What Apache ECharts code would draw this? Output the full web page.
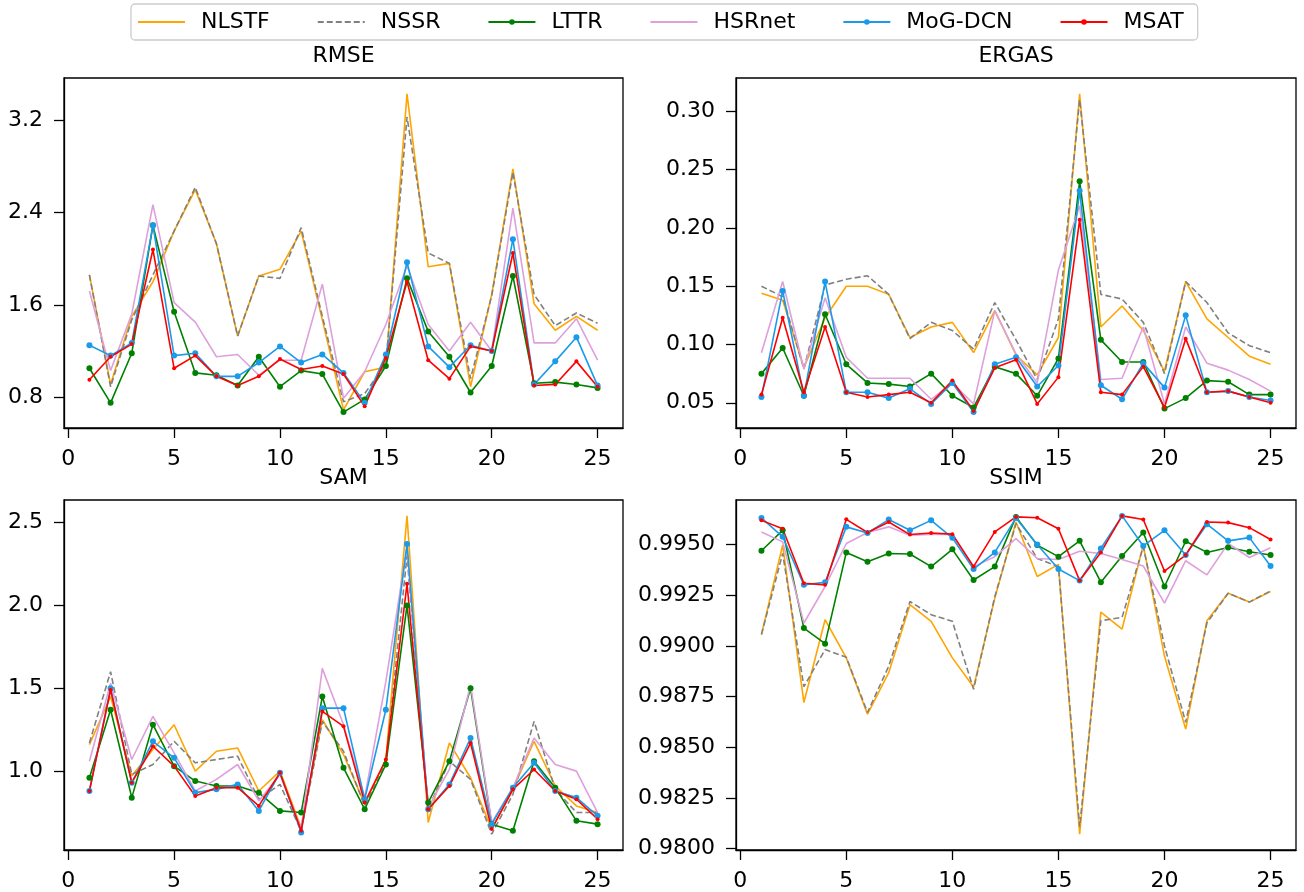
<!DOCTYPE html>
<html>
<head>
<meta charset="utf-8">
<title>metrics</title>
<script src="https://cdn.jsdelivr.net/npm/echarts@6/dist/echarts.min.js"></script>
<style type="text/css">
    html, body { margin: 0; padding: 0; background: #fff; }
    #main { width: 1304px; height: 892px; }
</style>
</head>
<body>
<div id="main"></div>
<script type="text/javascript">
// image index on the x axis
var idx = [1, 2, 3, 4, 5, 6, 7, 8, 9, 10, 11, 12, 13, 14, 15, 16, 17, 18, 19, 20, 21, 22, 23, 24, 25];
var names = ['NLSTF', 'NSSR', 'LTTR', 'HSRnet', 'MoG-DCN', 'MSAT'];
var xTicks = [0, 5, 10, 15, 20, 25];

// RMSE
var rmseNLSTF  = [1.86, 0.91, 1.50, 1.80, 2.24, 2.60, 2.13, 1.33, 1.85, 1.91, 2.24, 1.47, 0.69, 1.02, 1.06, 3.43, 1.93, 1.96, 0.89, 1.69, 2.78, 1.61, 1.38, 1.50, 1.38];
var rmseNSSR   = [1.86, 0.89, 1.47, 1.86, 2.24, 2.62, 2.13, 1.33, 1.85, 1.83, 2.27, 1.50, 0.76, 0.83, 1.09, 3.23, 2.05, 1.96, 0.96, 1.68, 2.75, 1.69, 1.42, 1.53, 1.44];
var rmseLTTR   = [1.05, 0.75, 1.18, 2.29, 1.54, 1.01, 0.99, 0.90, 1.15, 0.89, 1.03, 1.00, 0.67, 0.78, 1.07, 1.83, 1.37, 1.15, 0.84, 1.07, 1.85, 0.92, 0.93, 0.91, 0.88];
var rmseHSRnet = [1.72, 1.03, 1.52, 2.47, 1.62, 1.45, 1.15, 1.17, 0.99, 1.12, 1.12, 1.78, 0.79, 1.02, 1.43, 1.94, 1.43, 1.20, 1.45, 1.20, 2.44, 1.27, 1.27, 1.48, 1.12];
var rmseMoG    = [1.25, 1.16, 1.27, 2.29, 1.16, 1.18, 0.98, 0.98, 1.10, 1.24, 1.10, 1.17, 1.01, 0.75, 1.17, 1.97, 1.24, 1.06, 1.25, 1.20, 2.17, 0.91, 1.11, 1.32, 0.90];
var rmseMSAT   = [0.95, 1.15, 1.26, 2.08, 1.05, 1.16, 0.98, 0.90, 0.98, 1.13, 1.04, 1.07, 1.00, 0.72, 1.14, 1.80, 1.12, 0.96, 1.24, 1.20, 2.05, 0.90, 0.91, 1.11, 0.89];

// ERGAS
var ergasNLSTF  = [0.144, 0.138, 0.080, 0.123, 0.150, 0.150, 0.143, 0.106, 0.115, 0.119, 0.093, 0.129, 0.091, 0.074, 0.106, 0.315, 0.115, 0.133, 0.112, 0.077, 0.154, 0.122, 0.106, 0.090, 0.083];
var ergasNSSR   = [0.150, 0.141, 0.079, 0.151, 0.156, 0.159, 0.143, 0.105, 0.119, 0.112, 0.096, 0.136, 0.104, 0.070, 0.122, 0.310, 0.143, 0.139, 0.119, 0.075, 0.154, 0.136, 0.110, 0.099, 0.093];
var ergasLTTR   = [0.075, 0.097, 0.056, 0.126, 0.083, 0.067, 0.066, 0.064, 0.075, 0.056, 0.046, 0.081, 0.075, 0.056, 0.088, 0.240, 0.104, 0.085, 0.085, 0.045, 0.054, 0.069, 0.068, 0.057, 0.057];
var ergasHSRnet = [0.093, 0.154, 0.079, 0.140, 0.089, 0.071, 0.071, 0.071, 0.053, 0.067, 0.049, 0.129, 0.092, 0.067, 0.164, 0.219, 0.070, 0.071, 0.115, 0.049, 0.115, 0.084, 0.078, 0.070, 0.060];
var ergasMoG    = [0.055, 0.146, 0.056, 0.154, 0.059, 0.059, 0.054, 0.062, 0.049, 0.067, 0.042, 0.083, 0.089, 0.064, 0.082, 0.232, 0.065, 0.053, 0.084, 0.063, 0.125, 0.059, 0.060, 0.055, 0.052];
var ergasMSAT   = [0.057, 0.123, 0.059, 0.115, 0.059, 0.055, 0.057, 0.059, 0.050, 0.069, 0.043, 0.080, 0.087, 0.049, 0.072, 0.207, 0.059, 0.057, 0.081, 0.046, 0.105, 0.059, 0.060, 0.055, 0.050];

// SAM
var samNLSTF  = [1.16, 1.45, 0.97, 1.13, 1.28, 1.00, 1.12, 1.14, 0.88, 1.00, 0.66, 1.31, 1.10, 0.80, 1.07, 2.54, 0.69, 1.17, 0.96, 0.65, 0.89, 1.18, 0.91, 0.79, 0.75];
var samNSSR   = [1.17, 1.60, 0.98, 1.04, 1.18, 1.05, 1.07, 1.09, 0.83, 0.92, 0.64, 1.30, 1.12, 0.79, 1.05, 2.30, 0.77, 1.06, 0.95, 0.62, 0.86, 1.30, 0.89, 0.75, 0.75];
var samLTTR   = [0.96, 1.37, 0.84, 1.28, 1.03, 0.94, 0.91, 0.91, 0.87, 0.76, 0.75, 1.45, 1.02, 0.77, 1.04, 2.00, 0.81, 1.06, 1.50, 0.68, 0.64, 1.06, 0.90, 0.70, 0.68];
var samHSRnet = [1.06, 1.53, 1.07, 1.33, 1.11, 0.88, 0.95, 1.04, 0.82, 0.98, 0.65, 1.62, 1.28, 0.84, 1.54, 2.35, 0.78, 1.01, 1.52, 0.69, 0.90, 1.20, 1.04, 1.00, 0.75];
var samMoG    = [0.88, 1.50, 0.93, 1.18, 1.08, 0.87, 0.89, 0.92, 0.76, 0.99, 0.63, 1.38, 1.38, 0.83, 1.37, 2.37, 0.77, 0.92, 1.20, 0.68, 0.90, 1.05, 0.88, 0.84, 0.73];
var samMSAT   = [0.88, 1.49, 0.93, 1.15, 1.03, 0.85, 0.90, 0.90, 0.79, 0.99, 0.64, 1.36, 1.27, 0.81, 1.07, 2.13, 0.77, 0.91, 1.17, 0.65, 0.89, 1.01, 0.88, 0.83, 0.71];

// SSIM
var ssimNLSTF  = [0.99056, 0.99497, 0.98721, 0.99129, 0.98941, 0.98663, 0.98868, 0.99203, 0.99121, 0.98941, 0.98797, 0.99235, 0.99611, 0.99342, 0.99402, 0.98072, 0.99167, 0.99083, 0.99497, 0.98950, 0.98590, 0.99124, 0.99260, 0.99216, 0.99268];
var ssimNSSR   = [0.99056, 0.99456, 0.98799, 0.98982, 0.98944, 0.98672, 0.98900, 0.99219, 0.99154, 0.99121, 0.98786, 0.99243, 0.99603, 0.99431, 0.99391, 0.98108, 0.99124, 0.99141, 0.99489, 0.99000, 0.98623, 0.99113, 0.99260, 0.99216, 0.99271];
var ssimLTTR   = [0.99469, 0.99570, 0.99088, 0.99011, 0.99461, 0.99415, 0.99456, 0.99453, 0.99391, 0.99476, 0.99325, 0.99391, 0.99636, 0.99497, 0.99440, 0.99518, 0.99314, 0.99443, 0.99559, 0.99293, 0.99516, 0.99461, 0.99485, 0.99464, 0.99448];
var ssimHSRnet = [0.99562, 0.99513, 0.99113, 0.99293, 0.99505, 0.99559, 0.99587, 0.99546, 0.99549, 0.99549, 0.99391, 0.99440, 0.99529, 0.99431, 0.99426, 0.99467, 0.99456, 0.99426, 0.99394, 0.99211, 0.99420, 0.99350, 0.99505, 0.99436, 0.99484];
var ssimMoG    = [0.99631, 0.99538, 0.99301, 0.99314, 0.99587, 0.99557, 0.99623, 0.99570, 0.99619, 0.99533, 0.99379, 0.99461, 0.99631, 0.99500, 0.99379, 0.99322, 0.99480, 0.99641, 0.99493, 0.99570, 0.99448, 0.99600, 0.99518, 0.99534, 0.99394];
var ssimMSAT   = [0.99619, 0.99578, 0.99309, 0.99301, 0.99624, 0.99559, 0.99611, 0.99549, 0.99557, 0.99551, 0.99391, 0.99562, 0.99636, 0.99632, 0.99578, 0.99322, 0.99461, 0.99641, 0.99623, 0.99369, 0.99448, 0.99611, 0.99608, 0.99583, 0.99525];

var rmseTicks  = [0.8, 1.6, 2.4, 3.2];
var ergasTicks = [0.05, 0.10, 0.15, 0.20, 0.25, 0.30];
var samTicks   = [1.0, 1.5, 2.0, 2.5];
var ssimTicks  = [0.9800, 0.9825, 0.9850, 0.9875, 0.9900, 0.9925, 0.9950];

var FONT = 'DejaVu Sans';
var FS = 22;

var panels = [
    {title: 'RMSE',  left: 64,  top: 78,  width: 559, height: 350, ticks: rmseTicks,  dec: 1,
     data: [rmseNLSTF, rmseNSSR, rmseLTTR, rmseHSRnet, rmseMoG, rmseMSAT]},
    {title: 'ERGAS', left: 736, top: 78,  width: 560, height: 350, ticks: ergasTicks, dec: 2,
     data: [ergasNLSTF, ergasNSSR, ergasLTTR, ergasHSRnet, ergasMoG, ergasMSAT]},
    {title: 'SAM',   left: 64,  top: 500, width: 559, height: 351, ticks: samTicks,   dec: 1,
     data: [samNLSTF, samNSSR, samLTTR, samHSRnet, samMoG, samMSAT]},
    {title: 'SSIM',  left: 736, top: 500, width: 560, height: 351, ticks: ssimTicks,  dec: 4,
     data: [ssimNLSTF, ssimNSSR, ssimLTTR, ssimHSRnet, ssimMoG, ssimMSAT]}
];

// line looks per method
var looks = [
    {color: '#ffa500', type: 'solid',  symbol: 'none',   size: 0},
    {color: '#808080', type: [6, 3],   symbol: 'none',   size: 0},
    {color: '#008000', type: 'solid',  symbol: 'circle', size: 6},
    {color: '#dda0dd', type: 'solid',  symbol: 'none',   size: 0},
    {color: '#1a9bea', type: 'solid',  symbol: 'circle', size: 6},
    {color: '#ff0000', type: 'solid',  symbol: 'circle', size: 4}
];

var grids = [], xAxes = [], yAxes = [], titles = [], series = [];

panels.forEach(function (p, i) {
    grids.push({
        left: p.left, top: p.top, width: p.width, height: p.height,
        show: true, borderColor: '#000', borderWidth: 1.3, backgroundColor: '#fff'
    });
    titles.push({
        text: p.title, left: p.left + p.width / 2, top: p.top - 33, textAlign: 'center', padding: 0,
        textStyle: {fontFamily: FONT, fontSize: FS, fontWeight: 'normal', color: '#000'}
    });
    xAxes.push({
        gridIndex: i, type: 'value', min: -0.2, max: 26.2,
        splitLine: {show: false},
        axisLine: {show: true, onZero: false, lineStyle: {color: '#000', width: 1.3}},
        axisTick: {show: true, length: 10, customValues: xTicks, lineStyle: {color: '#000', width: 1.3}},
        axisLabel: {customValues: xTicks, margin: 20, fontFamily: FONT, fontSize: FS, color: '#000'}
    });
    var dec = p.dec;
    yAxes.push({
        gridIndex: i, type: 'value',
        min: function (v) { return v.min - (v.max - v.min) * 0.05; },
        max: function (v) { return v.max + (v.max - v.min) * 0.05; },
        splitLine: {show: false},
        axisLine: {show: true, onZero: false, lineStyle: {color: '#000', width: 1.3}},
        axisTick: {show: true, length: 10, customValues: p.ticks, lineStyle: {color: '#000', width: 1.3}},
        axisLabel: {
            customValues: p.ticks, margin: 21, fontFamily: FONT, fontSize: FS, color: '#000',
            formatter: function (v) { return v.toFixed(dec); }
        }
    });
    p.data.forEach(function (vals, k) {
        var lk = looks[k];
        series.push({
            name: names[k], type: 'line', xAxisIndex: i, yAxisIndex: i,
            data: idx.map(function (x, j) { return [x, vals[j]]; }),
            symbol: lk.symbol, symbolSize: lk.size, showSymbol: lk.symbol !== 'none',
            lineStyle: {color: lk.color, width: 1.6, type: lk.type},
            itemStyle: {color: lk.color},
            emphasis: {disabled: true},
            animation: false
        });
    });
});

// legend entries: plain line for methods drawn without markers
var legendData = names.map(function (n, k) {
    var item = {name: n};
    if (looks[k].symbol === 'none') {
        item.itemStyle = {opacity: 0};
    }
    return item;
});

var myChart = echarts.init(document.getElementById('main'));
option = {
    backgroundColor: '#fff',
    animation: false,
    title: titles,
    legend: {
        data: legendData, top: 4, left: 131,
        padding: [7, 14, 7, 6],
        itemWidth: 47, itemHeight: 7, itemGap: 47,
        borderColor: '#cccccc', borderWidth: 1.3, borderRadius: 4,
        textStyle: {fontFamily: FONT, fontSize: FS, color: '#000', padding: [0, 0, 0, 11]}
    },
    grid: grids,
    xAxis: xAxes,
    yAxis: yAxes,
    series: series
};
myChart.setOption(option);
</script>
</body>
</html>
